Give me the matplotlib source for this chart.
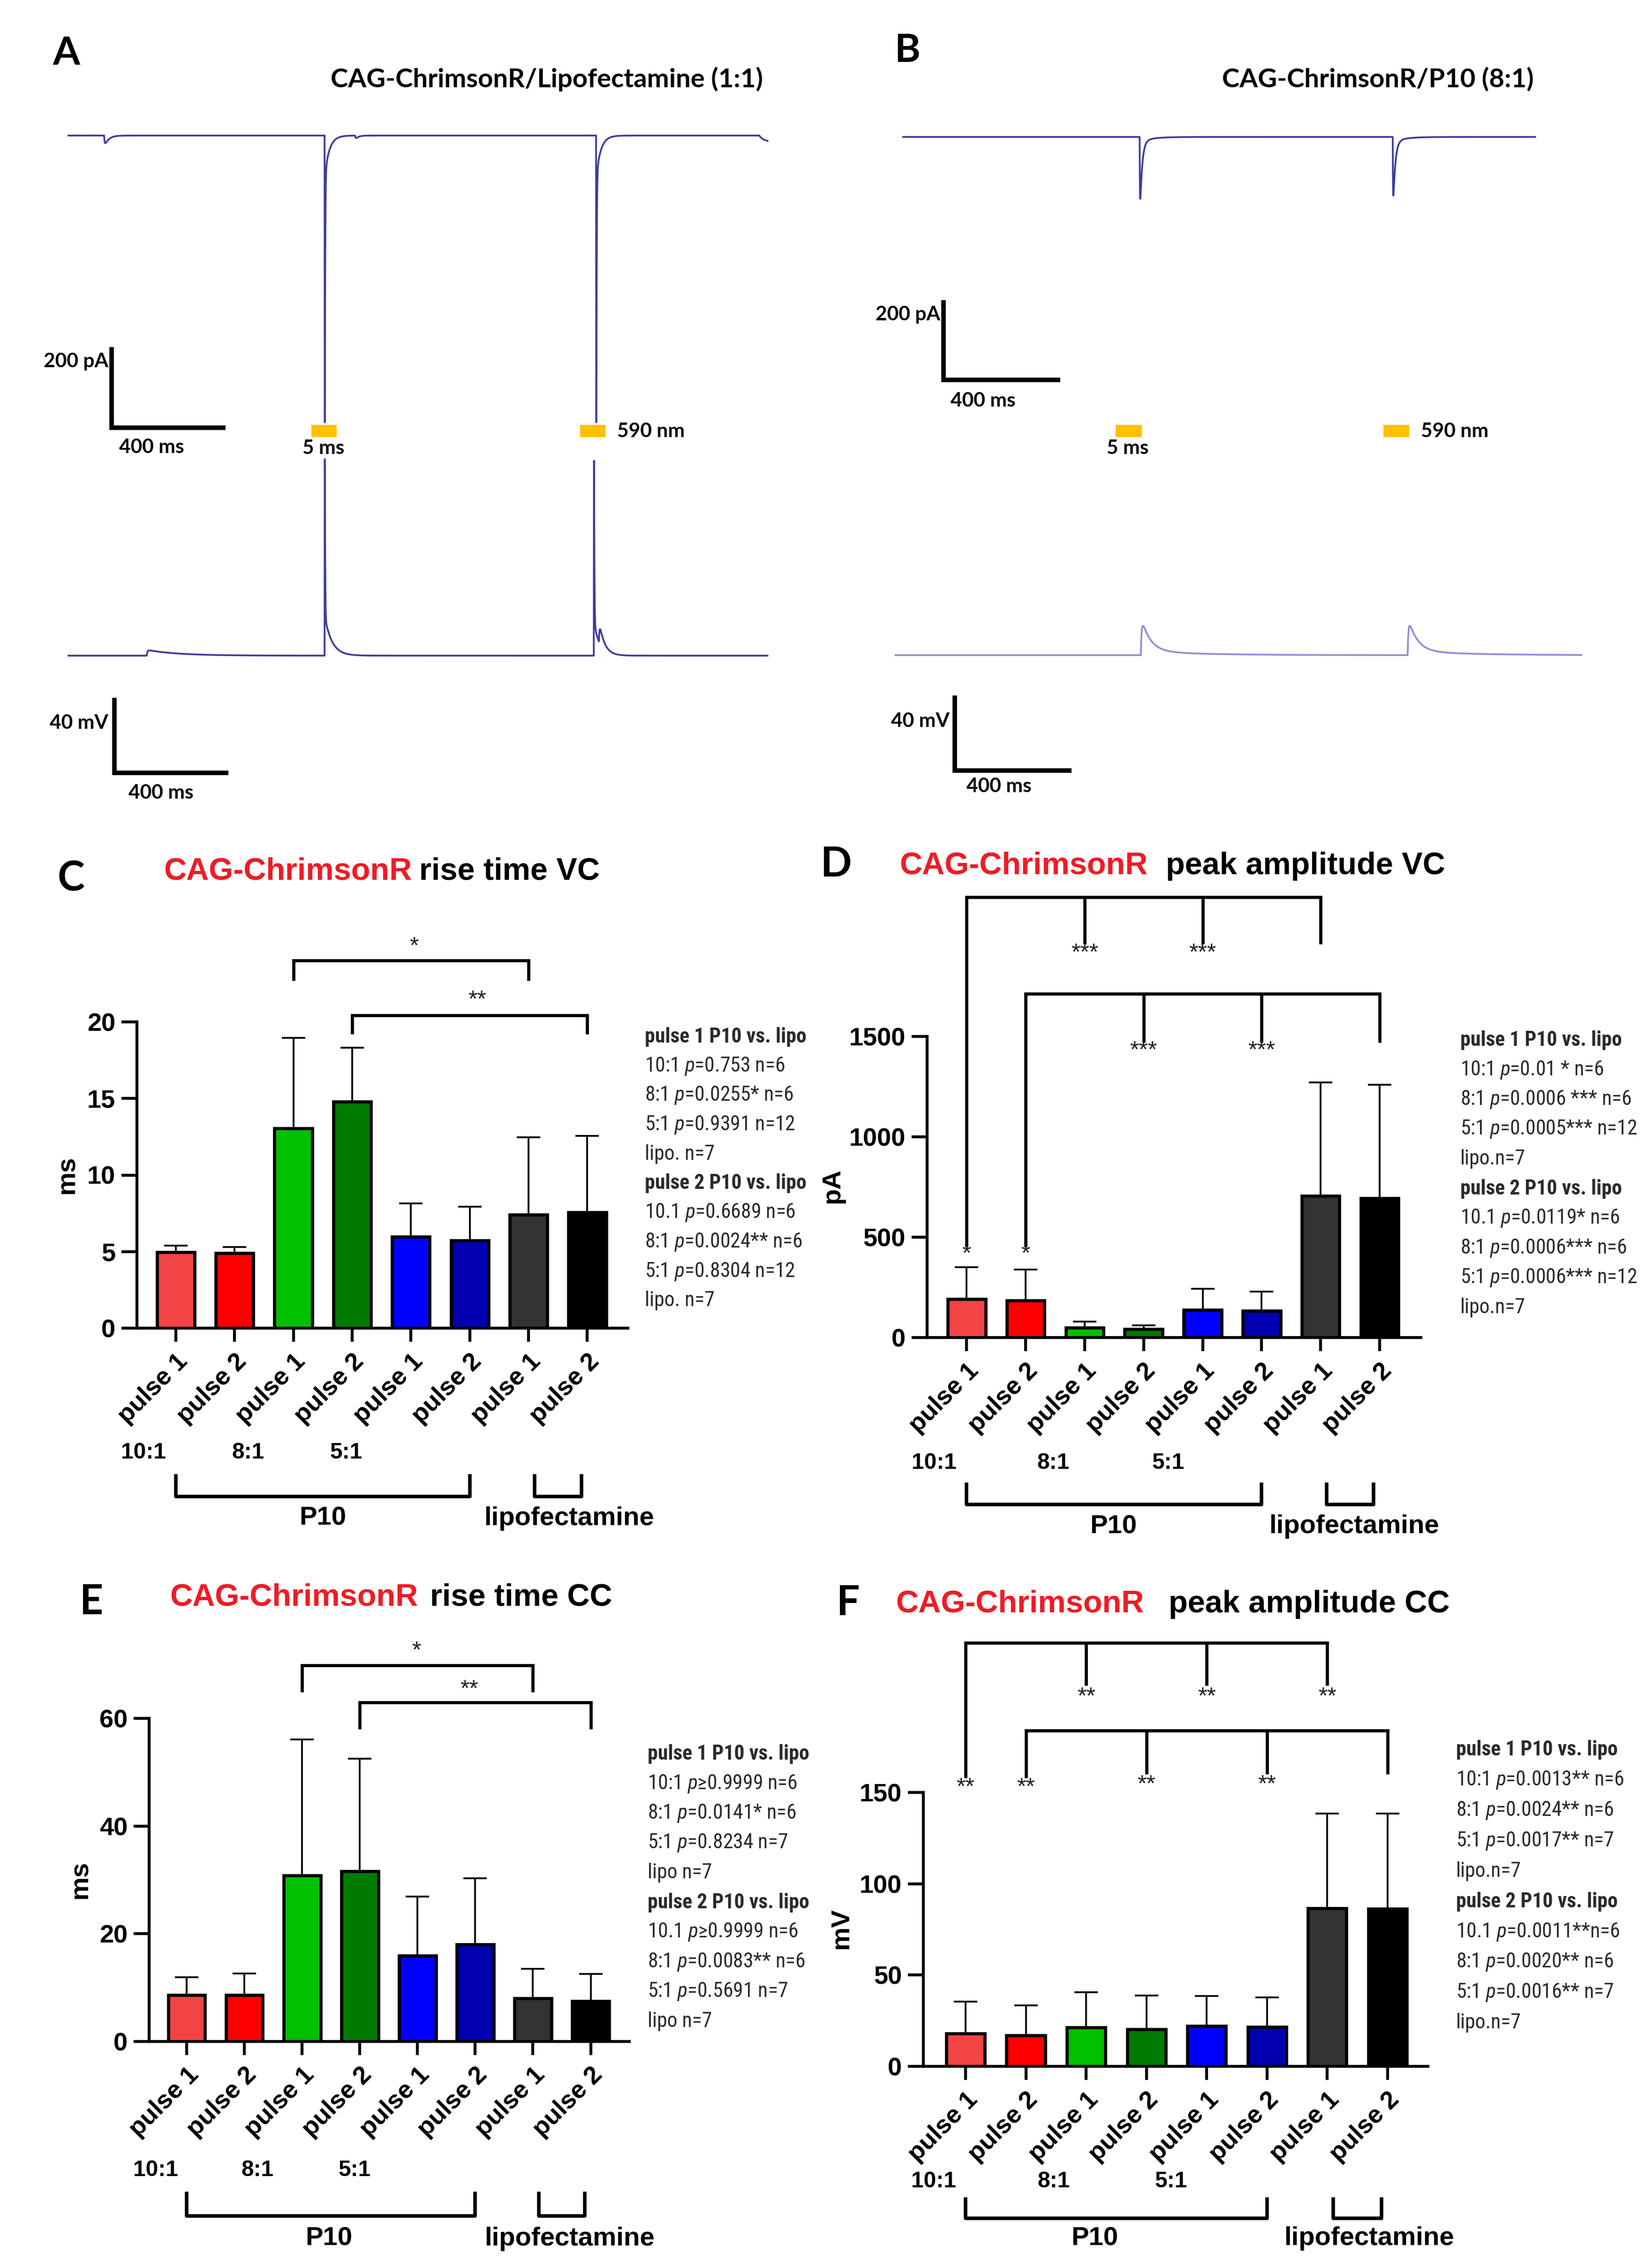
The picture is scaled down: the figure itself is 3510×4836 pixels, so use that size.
import numpy as np
import matplotlib
matplotlib.use("Agg")
import matplotlib.pyplot as plt
from matplotlib import font_manager as fm

W, H = 3510, 4836
DPI = 300

names = {f.name for f in fm.fontManager.ttflist}
ARIAL = 'Liberation Sans' if 'Liberation Sans' in names else 'DejaVu Sans'
CALIBRI = 'Lato' if 'Lato' in names else ARIAL

# condensed face for the statistics text (Arial Narrow look-alike)
NARROW, NARROW_STRETCH, STATS_SIZE = ARIAL, 'normal', 8.8
for cand in ['Liberation Sans Narrow', 'Arial Narrow', 'Roboto Condensed',
             'Open Sans Condensed', 'Noto Sans Condensed', 'DejaVu Sans Condensed']:
    if cand in names:
        NARROW, STATS_SIZE = cand, 10.5
        break
else:
    for f in fm.fontManager.ttflist:
        if f.name in (ARIAL, 'Roboto', 'Noto Sans', 'DejaVu Sans') and f.stretch == 'condensed':
            NARROW, NARROW_STRETCH, STATS_SIZE = f.name, 'condensed', 10.5
            break

plt.rcParams['font.family'] = [ARIAL, 'DejaVu Sans']
plt.rcParams['mathtext.fontset'] = 'custom'
_st = ':condensed' if NARROW_STRETCH == 'condensed' else ''
plt.rcParams['mathtext.rm'] = NARROW + _st
plt.rcParams['mathtext.it'] = NARROW + ':italic' + _st

# ---------------- data ----------------
groups = ['pulse 1', 'pulse 2'] * 4
bar_colors = ['#F24444', '#FF0000', '#00C000', '#007A00',
              '#0000FF', '#0000B0', '#333333', '#000000']
ratios = ['10:1', '8:1', '5:1']

rise_vc_mean = [4.97, 4.90, 13.05, 14.78, 5.97, 5.72, 7.42, 7.58]
rise_vc_sd = [0.41, 0.40, 5.90, 3.55, 2.17, 2.20, 5.06, 4.97]
peak_vc_mean = [192, 185, 50, 43, 137, 134, 705, 695]
peak_vc_sd = [158, 153, 29, 17, 105, 96, 567, 565]
rise_cc_mean = [8.6, 8.6, 30.8, 31.6, 15.9, 18.0, 8.0, 7.5]
rise_cc_sd = [3.3, 4.0, 25.3, 20.9, 11.0, 12.3, 5.5, 5.0]
peak_cc_mean = [18.0, 17.0, 21.4, 20.3, 22.2, 21.7, 86.6, 86.3]
peak_cc_sd = [17.5, 16.4, 19.3, 18.6, 16.2, 16.1, 51.9, 52.2]

stats_c = ['pulse 1 P10 vs. lipo', '10:1 p=0.753 n=6', '8:1 p=0.0255* n=6',
           '5:1 p=0.9391 n=12', 'lipo. n=7', 'pulse 2 P10 vs. lipo',
           '10.1 p=0.6689 n=6', '8:1 p=0.0024** n=6', '5:1 p=0.8304 n=12', 'lipo. n=7']
stats_d = ['pulse 1 P10 vs. lipo', '10:1 p=0.01 * n=6', '8:1 p=0.0006 *** n=6',
           '5:1 p=0.0005*** n=12', 'lipo.n=7', 'pulse 2 P10 vs. lipo',
           '10.1 p=0.0119* n=6', '8:1 p=0.0006*** n=6', '5:1 p=0.0006*** n=12', 'lipo.n=7']
stats_e = ['pulse 1 P10 vs. lipo', '10:1 p\u22650.9999 n=6', '8:1 p=0.0141* n=6',
           '5:1 p=0.8234 n=7', 'lipo n=7', 'pulse 2 P10 vs. lipo',
           '10.1 p\u22650.9999 n=6', '8:1 p=0.0083** n=6', '5:1 p=0.5691 n=7', 'lipo n=7']
stats_f = ['pulse 1 P10 vs. lipo', '10:1 p=0.0013** n=6', '8:1 p=0.0024** n=6',
           '5:1 p=0.0017** n=7', 'lipo.n=7', 'pulse 2 P10 vs. lipo',
           '10.1 p=0.0011**n=6', '8:1 p=0.0020** n=6', '5:1 p=0.0016** n=7', 'lipo.n=7']

# significance brackets: (top y, [(bar, leg end y), ...]) and stars (x, y, text)
brk_c = [(24.0, [(2, 22.7), (6, 22.7)]), (20.44, [(3, 19.2), (7, 19.2)])]
star_c = [(4.05, 24.9, '*'), (5.13, 21.4, '**')]
brk_d = [(2193, [(0, 451), (2, 1960), (4, 1960), (6, 1960)]),
         (1712, [(1, 451), (3, 1469), (5, 1469), (7, 1469)])]
star_d = [(2, 1913, '***'), (4, 1913, '***'), (0, 413, '*'),
          (3, 1427, '***'), (5, 1427, '***'), (1, 413, '*')]
brk_e = [(69.8, [(2, 64.9), (6, 64.9)]), (63.0, [(3, 58.0), (7, 58.0)])]
star_e = [(3.98, 72.4, '*'), (4.9, 65.3, '**')]
brk_f = [(232, [(0, 158), (2, 208.5), (4, 208.5), (6, 208.5)]),
         (184, [(1, 158), (3, 160), (5, 160), (7, 160)])]
star_f = [(2, 202, '**'), (4, 202, '**'), (6, 202, '**'), (0, 152.5, '**'),
          (1, 152.5, '**'), (3, 154, '**'), (5, 154, '**')]

# traces: events (onset ms, peak amplitude, rise tau ms, decay tau ms)
a_vc_end = 2454
a_vc_t0 = [125, 899, 899, 1006, 1852, 1852, 2425]
a_vc_amp = [-19, -670, -82, -6, -670, -82, -14]
a_vc_rise = [2.0, 0.4, 1.0, 2.0, 0.4, 1.0, 15]
a_vc_decay = [14, 1.2, 16, 10, 1.2, 16, 400]

a_cc_end = 2454
a_cc_t0 = [275, 899, 899, 1844, 1844, 1862]
a_cc_amp = [2.8, 100, 16, 100, 13, 8]
a_cc_rise = [2.0, 0.4, 2.0, 0.4, 2.0, 2.0]
a_cc_decay = [110, 1.2, 25, 1.2, 20, 18]

b_vc_end = 2165
b_vc_t0 = [810, 810, 1677, 1677]
b_vc_amp = [-148, -10, -140, -10]
b_vc_rise = [0.8, 2.0, 0.8, 2.0]
b_vc_decay = [7, 40, 7, 40]

b_cc_start, b_cc_end = -26, 2324
b_cc_t0 = [814, 814, 1728, 1728]
b_cc_amp = [14, 2, 14, 2]
b_cc_rise = [2.5, 5, 2.5, 5]
b_cc_decay = [30, 200, 30, 200]

a_stim = [853, 1796]
b_stim = [728, 1645]
stim_width = 89

# ---------------- helpers ----------------
fig = plt.figure(figsize=(W / DPI, H / DPI), dpi=DPI)


def px_axes(x0, y0, x1, y1):
    return fig.add_axes([x0 / W, 1 - y1 / H, (x1 - x0) / W, (y1 - y0) / H])


def ftext(px, py, s, **kw):
    kw.setdefault('va', 'center')
    fig.text(px / W, 1 - py / H, s, **kw)


def build_trace(t, t0s, amps, rises, decays):
    y = np.zeros_like(t)
    for t0, a, tr, td in zip(t0s, amps, rises, decays):
        s = t - t0
        m = s >= 0
        tpk = tr * td / (td - tr) * np.log(td / tr)
        pk = np.exp(-tpk / td) - np.exp(-tpk / tr)
        y[m] += a * (np.exp(-s[m] / td) - np.exp(-s[m] / tr)) / pk
    return y


def trace_axes(x0, y0, x1, y1, ox, sx, oy, sy):
    ax = px_axes(x0, y0, x1, y1)
    ax.set_xlim((x0 - ox) / sx, (x1 - ox) / sx)
    ax.set_ylim((oy - y1) / sy, (oy - y0) / sy)
    ax.axis('off')
    return ax


def scalebar(ax, t0, v0, dv):
    ax.plot([t0, t0, t0 + 400], [v0 + dv, v0, v0], color='k', lw=2.3,
            solid_joinstyle='miter', solid_capstyle='butt', clip_on=False)


lab_kw = dict(family=CALIBRI, fontsize=10.2, fontweight='bold')

# ---------------- panel A ----------------
dt = 0.2
ax = trace_axes(80, 220, 1720, 1010, 146, 0.6075, 289, 0.86)
t = np.arange(0, a_vc_end, dt)
ax.plot(t, build_trace(t, a_vc_t0, a_vc_amp, a_vc_rise, a_vc_decay), color='#3C3C9C', lw=0.9)
scalebar(ax, 151, -724, 200)
ax.bar(a_stim, 31, width=stim_width, bottom=-748, align='edge', color='#FFC000')

ax = trace_axes(80, 940, 1720, 1730, 146, 0.6075, 1398, 4.0)
t = np.arange(0, a_cc_end, dt)
ax.plot(t, build_trace(t, a_cc_t0, a_cc_amp, a_cc_rise, a_cc_decay), color='#3C3C9C', lw=0.9)
scalebar(ax, 161, -62.5, 40)

ftext(141, 114, 'A', family=CALIBRI, fontsize=20, fontweight='bold', ha='center')
ftext(1166, 169, 'CAG-ChrimsonR/Lipofectamine (1:1)', family=CALIBRI, fontsize=13.5,
      fontweight='bold', ha='center')
ftext(231, 771, '200 pA', ha='right', **lab_kw)
ftext(323, 954, '400 ms', ha='center', **lab_kw)
ftext(690, 956, '5 ms', ha='center', **lab_kw)
ftext(1316, 920, '590 nm', ha='left', **lab_kw)
ftext(231, 1542, '40 mV', ha='right', **lab_kw)
ftext(343, 1691, '400 ms', ha='center', **lab_kw)

# ---------------- panel B ----------------
ax = trace_axes(1840, 220, 3480, 1010, 1926, 0.6225, 292, 0.85)
t = np.arange(0, b_vc_end, dt)
ax.plot(t, build_trace(t, b_vc_t0, b_vc_amp, b_vc_rise, b_vc_decay), color='#3B3BA0', lw=0.9)
scalebar(ax, 138, -609, 200)
ax.bar(b_stim, 31, width=stim_width, bottom=-753, align='edge', color='#FFC000')

ax = trace_axes(1840, 940, 3480, 1730, 1926, 0.6225, 1397, 4.0)
t = np.arange(b_cc_start, b_cc_end, dt)
ax.plot(t, build_trace(t, b_cc_t0, b_cc_amp, b_cc_rise, b_cc_decay), color='#8E8ED6', lw=0.9)
scalebar(ax, 177, -61.5, 40)

ftext(1935, 109, 'B', family=CALIBRI, fontsize=20, fontweight='bold', ha='center')
ftext(2938, 169, 'CAG-ChrimsonR/P10 (8:1)', family=CALIBRI, fontsize=13.5,
      fontweight='bold', ha='center')
ftext(2005, 671, '200 pA', ha='right', **lab_kw)
ftext(2096, 855, '400 ms', ha='center', **lab_kw)
ftext(2405, 956, '5 ms', ha='center', **lab_kw)
ftext(3030, 920, '590 nm', ha='left', **lab_kw)
ftext(2025, 1538, '40 mV', ha='right', **lab_kw)
ftext(2130, 1677, '400 ms', ha='center', **lab_kw)


# ---------------- bar panels ----------------
def bar_panel(L, means, sds, yticks, stats, brackets, stars):
    x0, y0, x1, y1 = L['rect']
    ax = px_axes(x0, y0, x1, y1)
    ax.patch.set_alpha(0)
    x = np.arange(len(means))
    ax.bar(x, means, width=0.64, color=bar_colors, edgecolor='black', linewidth=1.6, zorder=2)
    ax.errorbar(x, means, yerr=[np.zeros(len(sds)), sds], fmt='none', ecolor='black',
                elinewidth=0.9, capsize=6, capthick=0.9, zorder=3)
    ax.set_xlim(L['xlim'])
    ax.set_ylim(0, yticks[-1])
    ax.spines[['top', 'right']].set_visible(False)
    ax.spines[['left', 'bottom']].set_linewidth(1.5)
    ax.set_yticks(yticks)
    ax.set_xticks(x)
    ax.set_xticklabels(groups, rotation=45, ha='right', rotation_mode='anchor',
                       fontsize=13, fontweight='bold')
    ax.tick_params(axis='y', length=8, width=1.5, labelsize=13, pad=3)
    ax.tick_params(axis='x', length=7, width=1.5, pad=4)
    for lab in ax.get_yticklabels():
        lab.set_fontweight('bold')

    for top, legs in brackets:
        xs = [b for b, _ in legs]
        ax.plot([min(xs), max(xs)], [top, top], color='k', lw=1.6, clip_on=False,
                solid_capstyle='projecting')
        for b, yend in legs:
            ax.plot([b, b], [top, yend], color='k', lw=1.6, clip_on=False,
                    solid_capstyle='butt')
    for sx, sy, s in stars:
        ax.text(sx, sy, s, ha='center', va='center', fontsize=12, color='#222222')

    def fr(py):
        return (y1 - py) / (y1 - y0)
    tr = ax.get_xaxis_transform()
    gt, gb = fr(L['group_py'][0]), fr(L['group_py'][1])
    ax.plot([0, 0, 5, 5], [gt, gb, gb, gt], transform=tr, color='k', lw=1.8, clip_on=False)
    ax.plot([6.1, 6.1, 6.9, 6.9], [gt, gb, gb, gt], transform=tr, color='k', lw=1.8, clip_on=False)
    for rx, r in zip(L['ratio_x'], ratios):
        ax.text(rx, fr(L['ratio_py']), r, transform=tr, ha='center', va='center',
                fontsize=11.5, fontweight='bold')
    ax.text(L['p10_x'], fr(L['label_py']), 'P10', transform=tr, ha='center', va='center',
            fontsize=13.5, fontweight='bold')
    ax.text(L['lipo_x'], fr(L['label_py']), 'lipofectamine', transform=tr, ha='center',
            va='center', fontsize=13.5, fontweight='bold')

    ftext(*L['ylabel_px'], L['ylabel'], rotation=90, ha='center', fontsize=13.5, fontweight='bold')
    lx, ly = L['letter_px']
    ftext(lx, ly, L['letter'], family=CALIBRI, fontsize=21, fontweight='bold', ha='center')
    tx_red, tx_blk, ty = L['title_px']
    ftext(tx_red, ty, 'CAG-ChrimsonR', color='#EE1C25', fontsize=16, fontweight='bold', ha='left')
    ftext(tx_blk, ty, L['title'], color='black', fontsize=16, fontweight='bold', ha='left')

    sx0, sy0, dy = L['stats_px']
    for i, line in enumerate(stats):
        head = line.startswith('pulse')
        s = line.replace(' p=', ' $p$=').replace(' p\u2265', ' $p$\u2265')
        ftext(sx0, sy0 + i * dy, s, family=[NARROW, 'DejaVu Sans'], fontstretch=NARROW_STRETCH,
              fontsize=STATS_SIZE, color='#2A2A2A', ha='left',
              fontweight='bold' if head else 'normal')
    return ax


lay_c = dict(rect=(292, 2179, 1339, 2832), xlim=(-0.66, 7.69), ylabel='ms', ylabel_px=(144, 2505),
             letter='C', letter_px=(152, 1874), title='rise time VC', title_px=(349, 894, 1859),
             stats_px=(1375, 2211, 62.5), ratio_x=[-0.55, 1.23, 2.9], ratio_py=3098,
             group_py=(3147, 3191), p10_x=2.5, lipo_x=6.69, label_py=3238)
lay_d = dict(rect=(1977, 2210, 3030, 2852), xlim=(-0.67, 7.70), ylabel='pA', ylabel_px=(1775, 2529),
             letter='D', letter_px=(1783, 1844), title='peak amplitude VC', title_px=(1918, 2486, 1847),
             stats_px=(3114, 2218, 63.3), ratio_x=[-0.55, 1.47, 3.42], ratio_py=3119,
             group_py=(3165, 3208), p10_x=2.49, lipo_x=6.57, label_py=3255)
lay_e = dict(rect=(318, 3664, 1342, 4353), xlim=(-0.65, 7.67), ylabel='ms', ylabel_px=(172, 4008),
             letter='E', letter_px=(195, 3416), title='rise time CC', title_px=(362, 917, 3406),
             stats_px=(1381, 3740, 63.3), ratio_x=[-0.54, 1.23, 2.91], ratio_py=4628,
             group_py=(4677, 4725), p10_x=2.46, lipo_x=6.63, label_py=4774)
lay_f = dict(rect=(1969, 3822, 3045, 4406), xlim=(-0.70, 7.67), ylabel='mV', ylabel_px=(1794, 4112),
             letter='F', letter_px=(1809, 3418), title='peak amplitude CC', title_px=(1910, 2492, 3421),
             stats_px=(3105, 3731, 64.7), ratio_x=[-0.53, 1.46, 3.41], ratio_py=4652,
             group_py=(4689, 4730), p10_x=2.14, lipo_x=6.69, label_py=4773)

bar_panel(lay_c, rise_vc_mean, rise_vc_sd, [0, 5, 10, 15, 20], stats_c, brk_c, star_c)
bar_panel(lay_d, peak_vc_mean, peak_vc_sd, [0, 500, 1000, 1500], stats_d, brk_d, star_d)
bar_panel(lay_e, rise_cc_mean, rise_cc_sd, [0, 20, 40, 60], stats_e, brk_e, star_e)
bar_panel(lay_f, peak_cc_mean, peak_cc_sd, [0, 50, 100, 150], stats_f, brk_f, star_f)

fig.savefig('out.png', dpi=DPI)
